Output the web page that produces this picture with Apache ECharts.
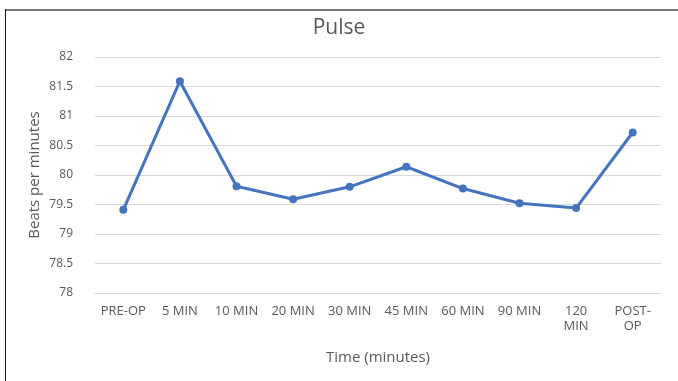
<!DOCTYPE html>
<html>
<head>
<meta charset="utf-8">
<script src="https://cdn.jsdelivr.net/npm/echarts@6/dist/echarts.min.js"></script>
<style>
html,body{margin:0;padding:0;background:#fff;}
#c{width:678px;height:381px;}
</style>
</head>
<body>
<div id="c"></div>
<script>
const categories = ['PRE-OP', '5 MIN', '10 MIN', '20 MIN', '30 MIN', '45 MIN', '60 MIN', '90 MIN', '120\nMIN', 'POST-\nOP'];
const pulseValues = [79.41, 81.59, 79.81, 79.59, 79.8, 80.14, 79.77, 79.52, 79.44, 80.72];
const yTicks = { min: 78, max: 82, interval: 0.5 };

const chart = echarts.init(document.getElementById('c'), null, { renderer: 'canvas' });
const font = 'Open Sans';
chart.setOption({
  animation: false,
  backgroundColor: '#fff',
  title: {
    text: 'Pulse', left: 'center', top: 13,
    textStyle: { fontFamily: font, fontSize: 21, fontWeight: 'normal', color: '#595959' }
  },
  graphic: [
    { type: 'rect', shape: { x: 5, y: 9, width: 673, height: 2 }, style: { fill: '#777' }, silent: true },
    { type: 'rect', shape: { x: 5, y: 9, width: 1, height: 372 }, style: { fill: '#111' }, silent: true }
  ],
  grid: { left: 95, right: 17, top: 57, bottom: 88 },
  xAxis: {
    type: 'category', data: categories, boundaryGap: true,
    name: 'Time (minutes)', nameLocation: 'middle', nameGap: 57,
    nameTextStyle: { fontFamily: font, fontSize: 15, color: '#595959' },
    axisLine: { lineStyle: { color: '#d9d9d9', width: 1 } },
    axisTick: { show: false },
    axisLabel: { fontFamily: font, fontSize: 13, color: '#595959', margin: 11, interval: 0, lineHeight: 15 }
  },
  yAxis: {
    type: 'value', min: yTicks.min, max: yTicks.max, interval: yTicks.interval,
    name: 'Beats per minutes', nameLocation: 'middle', nameGap: 53, nameRotate: 90,
    nameMoveOverlap: false,
    nameTextStyle: { fontFamily: font, fontSize: 15, color: '#595959' },
    axisLine: { show: false }, axisTick: { show: false },
    splitLine: { lineStyle: { color: '#d9d9d9', width: 1 } },
    axisLabel: { fontFamily: font, fontSize: 12, color: '#595959', margin: 22 }
  },
  series: [{
    type: 'line', data: pulseValues,
    lineStyle: { color: '#4374bd', width: 3 },
    itemStyle: { color: '#4374bd' },
    symbol: 'circle', symbolSize: 8
  }]
});
</script>
</body>
</html>
